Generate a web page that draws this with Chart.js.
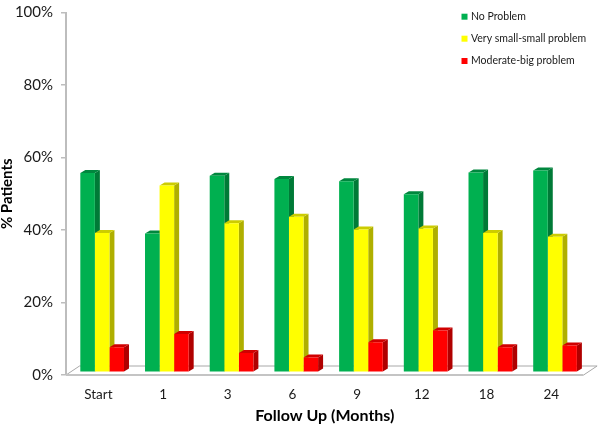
<!DOCTYPE html>
<html><head><meta charset="utf-8">
<style>html,body{margin:0;padding:0;background:#fff}#w{width:600px;height:425px}</style>
<script src="https://cdn.jsdelivr.net/npm/chart.js@4"></script></head>
<body><div id="w"><canvas id="c"></canvas></div>
<script>
const categories=["Start","1","3","6","9","12","18","24"];
const seriesNames=["No Problem","Very small-small problem","Moderate-big problem"];
const noProblem=[55,38.3,54.2,53.3,52.7,49.1,55.1,55.7];
const smallProblem=[38.4,51.5,41.1,42.9,39.4,39.7,38.4,37.4];
const moderateBig=[6.9,10.6,5.3,4.1,8.3,11.5,6.9,7.4];
const yTicks=[0,20,40,60,80,100];
const front=["#00B050","#FFFF00","#FF0000"];
const side=["#007A37","#AFAF00","#B00000"];
const topFace=["#00873E","#CCCC00","#D00000"];
const DX=5,DY=3,SHIFT_X=3.8,SHIFT_Y=-2.7,FLOOR_X=13.5,FLOOR_Y=9;
const GREY="#BDBDBD";
function poly(ctx,pts,fill){ctx.beginPath();pts.forEach((p,i)=>i?ctx.lineTo(p[0],p[1]):ctx.moveTo(p[0],p[1]));ctx.closePath();ctx.fillStyle=fill;ctx.fill();}
const bars3d={id:'bars3d',
 beforeDatasetsDraw(chart){
  const {ctx,chartArea:a}=chart;
  ctx.save();
  ctx.strokeStyle='#A8A8A8';ctx.lineWidth=1;
  ctx.beginPath();
  ctx.moveTo(a.left,a.bottom);ctx.lineTo(a.left+FLOOR_X,a.bottom-FLOOR_Y);ctx.lineTo(a.right+FLOOR_X,a.bottom-FLOOR_Y);ctx.lineTo(a.right,a.bottom);
  ctx.stroke();
  ctx.strokeStyle='#C4C4C4';ctx.lineWidth=2;
  ctx.beginPath();ctx.moveTo(a.left,a.bottom);ctx.lineTo(a.right,a.bottom);ctx.stroke();
  ctx.restore();
  ctx.save();
  ctx.translate(SHIFT_X,SHIFT_Y);
  chart.data.datasets.forEach((d,i)=>{
   chart.getDatasetMeta(i).data.forEach(b=>{
    const p=b.getProps(['x','y','base','width'],true);
    const r=p.x+p.width/2,l=p.x-p.width/2;
    poly(ctx,[[r,p.y],[r+DX,p.y-DY],[r+DX,p.base-DY],[r,p.base]],side[i]);
    poly(ctx,[[l,p.y],[l+DX,p.y-DY],[r+DX,p.y-DY],[r,p.y]],topFace[i]);
   });
  });
 },
 afterDatasetsDraw(chart){
  chart.ctx.restore();
  const ctx=chart.ctx;
  ctx.save();
  ctx.font='10.5px Lato';ctx.textBaseline='middle';ctx.textAlign='left';
  [16.7,38.7,61].forEach((y,i)=>{
   ctx.fillStyle=front[i];ctx.fillRect(461.5,y-3,6,6);
   ctx.fillStyle='#1a1a1a';ctx.fillText(chart.data.datasets[i].label,471,y);
  });
  ctx.restore();
 }
};
new Chart(document.getElementById('c'),{type:'bar',
 data:{labels:categories,datasets:[noProblem,smallProblem,moderateBig].map((v,i)=>({label:seriesNames[i],data:v,backgroundColor:front[i],borderWidth:0,categoryPercentage:0.675,barPercentage:1}))},
 options:{responsive:true,maintainAspectRatio:false,animation:false,
  layout:{padding:{top:12.5,right:16.4,left:0,bottom:0}},
  plugins:{legend:{display:false},tooltip:{enabled:false}},
  scales:{
   x:{afterFit(s){s.height=50;s.paddingLeft=0;s.paddingRight=0},
    grid:{display:false},border:{display:false},
    ticks:{color:'#1a1a1a',font:{family:'Lato',size:13.5},padding:4,maxRotation:0},
    title:{display:true,text:'Follow Up (Months)',color:'#000',font:{family:'Lato',size:16,weight:'bold'},padding:{top:5,bottom:0}}},
   y:{min:0,max:100,afterFit(s){s.width=66;s.paddingTop=0;s.paddingBottom=0},
    afterBuildTicks(s){s.ticks=yTicks.map(v=>({value:v}))},
    grid:{drawOnChartArea:false,color:GREY,tickLength:5,lineWidth:1.5},border:{color:GREY,width:2},
    ticks:{color:'#1a1a1a',font:{family:'Lato',size:15},padding:8,callback:v=>v+'%'},
    title:{display:true,text:'% Patients',color:'#000',font:{family:'Lato',size:15,weight:'bold',lineHeight:1},padding:{top:0,bottom:0}}}
  }},
 plugins:[bars3d]});
</script></body></html>
